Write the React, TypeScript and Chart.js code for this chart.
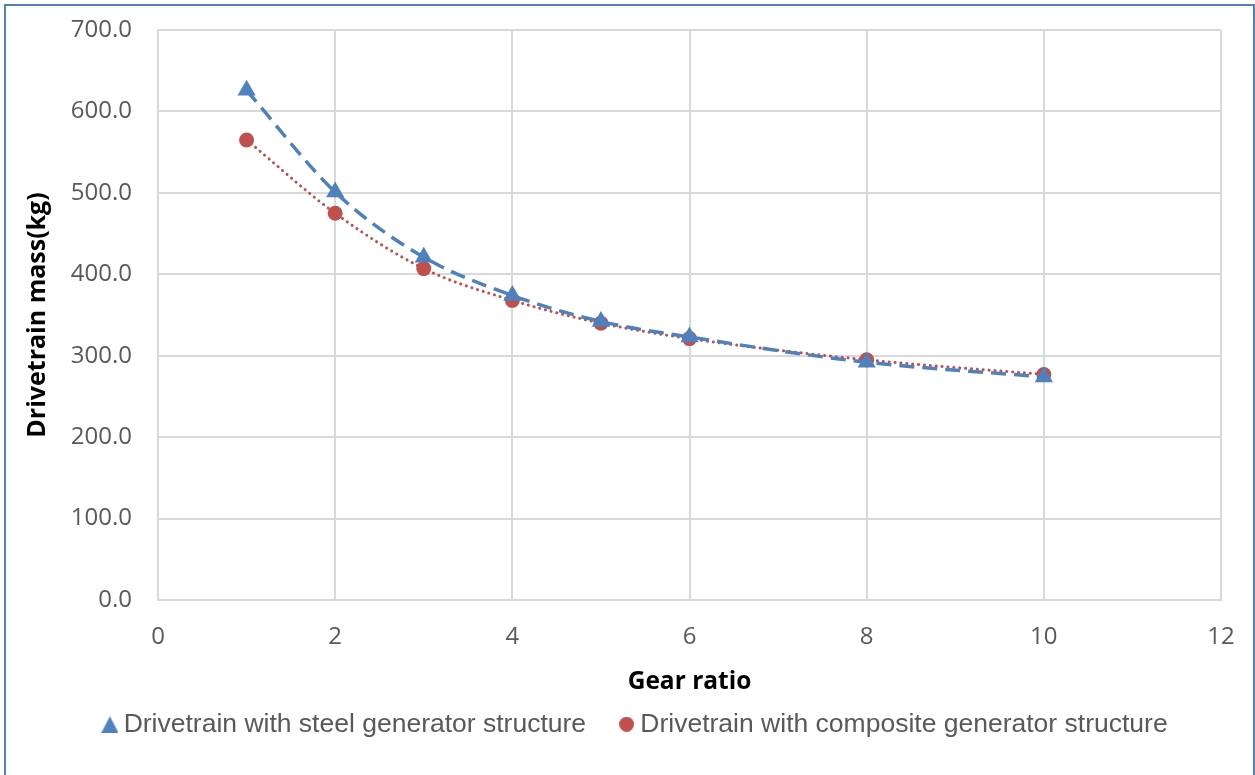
import React, { useEffect, useRef } from "react";
import { Chart, registerables } from "chart.js";

Chart.register(...registerables);

const gearRatios = [1, 2, 3, 4, 5, 6, 8, 10];
const steelMass = [626, 501, 421, 374, 342, 323, 292, 274];
const compositeMass = [565, 475, 407, 368, 340, 321, 295, 277];
const steelLabel = "Drivetrain with steel generator structure";
const compositeLabel = "Drivetrain with composite generator structure";
const xTitle = "Gear ratio";
const yTitle = "Drivetrain mass(kg)";

const BLUE = "#4F81BD";
const RED = "#C0504D";

function makeMarker(kind: "triangle" | "circle", color: string) {
  const c = document.createElement("canvas");
  const w = kind === "triangle" ? 17 : 15;
  const h = kind === "triangle" ? 17 : 15;
  c.width = w;
  c.height = h;
  const g = c.getContext("2d")!;
  g.fillStyle = color;
  g.beginPath();
  if (kind === "triangle") {
    g.moveTo(w / 2, 0.5);
    g.lineTo(w, h);
    g.lineTo(0, h);
    g.closePath();
  } else {
    g.arc(w / 2, h / 2, w / 2, 0, Math.PI * 2);
  }
  g.fill();
  return c;
}

export default function App() {
  const ref = useRef<HTMLCanvasElement>(null);

  useEffect(() => {
    document.body.style.margin = "0";
    const ctx = ref.current!;
    const markers = [makeMarker("triangle", BLUE), makeMarker("circle", RED)];
    const legendShift = {
      id: "legendShift",
      afterLayout(chart: any) {
        const lg = chart.legend;
        if (!lg) return;
        lg.left += 23;
        lg.right += 23;
        lg.top -= 27.5;
        lg.bottom -= 27.5;
      },
    };
    const chart = new Chart(ctx, {
      type: "scatter",
      data: {
        datasets: [
          {
            label: steelLabel,
            data: gearRatios.map((x, i) => ({ x, y: steelMass[i] })),
            showLine: true,
            cubicInterpolationMode: "monotone",
            borderColor: BLUE,
            backgroundColor: BLUE,
            borderWidth: 3.5,
            borderDash: [15, 8],
            pointStyle: "triangle",
            pointRadius: 10.5,
            pointBorderWidth: 0,
          },
          {
            label: compositeLabel,
            data: gearRatios.map((x, i) => ({ x, y: compositeMass[i] })),
            showLine: true,
            cubicInterpolationMode: "monotone",
            borderColor: RED,
            backgroundColor: RED,
            borderWidth: 3,
            borderCapStyle: "round",
            borderDash: [0.1, 5.8],
            pointStyle: "circle",
            pointRadius: 7.5,
            pointBorderWidth: 0,
          },
        ],
      },
      plugins: [legendShift],
      options: {
        animation: false,
        responsive: false,
        layout: { padding: { left: 10, right: 34, top: 30, bottom: 0 } },
        plugins: {
          tooltip: { enabled: false },
          legend: {
            position: "bottom",
            labels: {
              usePointStyle: true,
              pointStyleWidth: 1,
              boxHeight: 16,
              padding: 40,
              color: "#595959",
              font: { family: "Liberation Sans", size: 26.5 },
              generateLabels: (ch: any) => {
                const items = (Chart.defaults.plugins.legend.labels as any).generateLabels(ch);
                items.forEach((it: any, i: number) => {
                  it.pointStyle = markers[i];
                });
                return items;
              },
            },
          },
        },
        scales: {
          x: {
            type: "linear",
            min: 0,
            max: 12,
            ticks: {
              stepSize: 2,
              color: "#595959",
              padding: 23,
              font: { family: "Open Sans", size: 24 },
            },
            grid: { color: "#D9D9D9", lineWidth: 2, drawTicks: false },
            border: { color: "#D9D9D9", width: 2 },
            title: {
              display: true,
              text: xTitle,
              color: "#000",
              font: { family: "Open Sans", size: 24.5, weight: "bold" },
              padding: { top: 0, bottom: 2 },
            },
            afterFit: (s: any) => {
              s.height = 98.5;
              s.paddingLeft = 0;
              s.paddingRight = 0;
            },
          },
          y: {
            min: 0,
            max: 700,
            ticks: {
              stepSize: 100,
              color: "#595959",
              padding: 26,
              font: { family: "Open Sans", size: 24 },
              callback: (v: any) => Number(v).toFixed(1),
            },
            grid: { color: "#D9D9D9", lineWidth: 2, drawTicks: false },
            border: { color: "#D9D9D9", width: 2 },
            title: {
              display: true,
              text: yTitle,
              color: "#000",
              font: { family: "Open Sans", size: 25, weight: "bold" },
              padding: { top: 13, bottom: 0 },
            },
            afterFit: (s: any) => {
              s.width = 148;
              s.paddingTop = 0;
              s.paddingBottom = 0;
            },
          },
        },
      },
    });
    return () => chart.destroy();
  }, []);

  return (
    <div style={{ position: "fixed", left: 0, top: 0, width: 1255, height: 775, background: "#fff", overflow: "hidden" }}>
      <canvas ref={ref} width={1255} height={775} style={{ position: "absolute", left: 0, top: 0 }} />
      <div
        style={{
          position: "absolute",
          left: 4,
          top: 4,
          width: 1247,
          height: 800,
          border: "2px solid #4F81BD",
          pointerEvents: "none",
        }}
      />
    </div>
  );
}
